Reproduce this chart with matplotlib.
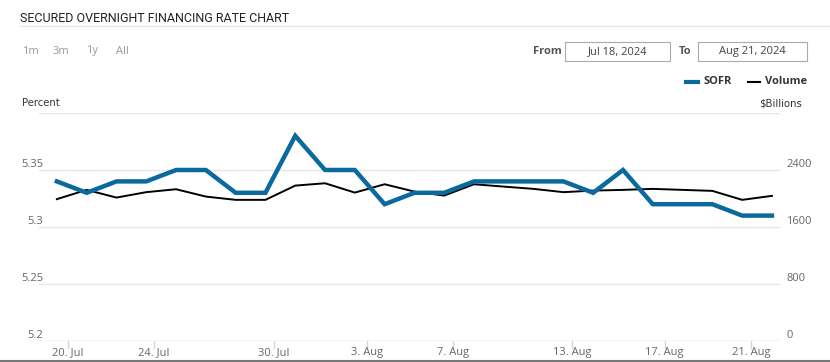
import matplotlib
matplotlib.use("Agg")
import matplotlib.pyplot as plt
from matplotlib.patches import Rectangle
from matplotlib.lines import Line2D
import matplotlib.transforms as mtransforms
from matplotlib import font_manager

# Data ------------------------------------------------------------------------
dates = ["Jul 18", "Jul 19", "Jul 22", "Jul 23", "Jul 24", "Jul 25", "Jul 26",
         "Jul 29", "Jul 30", "Jul 31", "Aug 1", "Aug 2", "Aug 5", "Aug 6",
         "Aug 7", "Aug 8", "Aug 9", "Aug 12", "Aug 13", "Aug 14", "Aug 15",
         "Aug 16", "Aug 19", "Aug 20", "Aug 21"]
sofr = [5.34, 5.33, 5.34, 5.34, 5.35, 5.35, 5.33, 5.33, 5.38, 5.35, 5.35, 5.32,
        5.33, 5.33, 5.34, 5.34, 5.34, 5.34, 5.33, 5.35, 5.32, 5.32, 5.32, 5.31,
        5.31]
volume = [1991, 2121, 2013, 2089, 2130, 2027, 1981, 1981, 2181, 2214, 2083,
          2200, 2097, 2041, 2200, 2167, 2135, 2089, 2111, 2121, 2135, 2121,
          2107, 1981, 2037]
xtick_labels = ["20. Jul", "24. Jul", "30. Jul", "3. Aug", "7. Aug", "13. Aug",
                "17. Aug", "21. Aug"]
xtick_pos = [0.37, 3.26, 7.28, 10.4, 13.3, 17.3, 20.4, 23.3]
left_ticks = [5.2, 5.25, 5.3, 5.35]
left_labels = ["5.2", "5.25", "5.3", "5.35"]
right_ticks = [0, 800, 1600, 2400]
right_labels = ["0", "800", "1600", "2400"]
ranges = ["1m", "3m", "1y", "All"]

# Style -----------------------------------------------------------------------
W, H = 830, 362
blue = "#0a6a9e"
grid = "#e6e6e6"
label_c = "#666666"
font = "Open Sans"

# condensed face for the title if one is installed
names = {f.name for f in font_manager.fontManager.ttflist}
title_font = "Liberation Sans Narrow" if "Liberation Sans Narrow" in names else "Roboto"

fig = plt.figure(figsize=(W / 100, H / 100), dpi=100)
fig.patch.set_facecolor("white")


def fx(px):
    return px / W


def fy(py):
    return 1 - py / H


ax = fig.add_axes([fx(39), fy(341), fx(780) - fx(39), (341 - 113) / H])
x = list(range(len(dates)))
ax.set_xlim(-0.6, 24.27)
ax.set_ylim(5.2, 5.4)
for s in ax.spines.values():
    s.set_visible(False)
ax.set_yticks([])
ax.set_xticks([])
for v in left_ticks[1:] + [5.4]:
    ax.axhline(v, color=grid, lw=1, zorder=0)
ax.axhline(5.2, color="#ccd6eb", lw=1, zorder=0)

ax2 = ax.twinx()
ax2.set_ylim(0, 3200)
ax2.set_yticks([])
for s in ax2.spines.values():
    s.set_visible(False)

ax2.plot(x, volume, color="black", lw=1.4, zorder=2)
ax.plot(x, sofr, color=blue, lw=3.2, solid_joinstyle="miter", zorder=3)
ax.set_zorder(ax2.get_zorder() + 1)
ax.patch.set_visible(False)

# y labels, sitting above the grid lines
tl = mtransforms.blended_transform_factory(fig.transFigure, ax.transData)
for v, lab in zip(left_ticks, left_labels):
    ax.text(fx(43), v, lab, transform=tl, ha="right", va="bottom",
            fontsize=8, color=label_c, family=font)
tr = mtransforms.blended_transform_factory(fig.transFigure, ax2.transData)
for v, lab in zip(right_ticks, right_labels):
    ax2.text(fx(786), v, lab, transform=tr, ha="left", va="bottom",
             fontsize=8, color=label_c, family=font)

# x ticks and labels
tx = mtransforms.blended_transform_factory(ax.transData, fig.transFigure)
for p, lab in zip(xtick_pos, xtick_labels):
    ax.add_line(Line2D([p, p], [fy(341), fy(348)], transform=tx,
                       color="#ccd6eb", lw=1, clip_on=False))
    ax.text(p, fy(353), lab, transform=tx, ha="center", va="center",
            fontsize=8, color=label_c, family=font)

# Header ----------------------------------------------------------------------
fig.text(fx(20), fy(18), "SECURED OVERNIGHT FINANCING RATE CHART",
         fontsize=10.5 if title_font != "Roboto" else 9, color="#222222",
         family=title_font, va="center", ha="left")
fig.add_artist(Line2D([fx(20), fx(830)], [fy(26), fy(26)], color="#e8e8e8",
                      lw=1))
for xp, r in zip([22, 53, 86, 116], ranges):
    fig.text(fx(xp), fy(51), r, fontsize=8, color="#999999", family=font,
             va="center")

fig.text(fx(533), fy(51), "From", fontsize=8, color="#555555", family=font,
         va="center", weight="bold")
fig.text(fx(679), fy(51), "To", fontsize=8, color="#555555", family=font,
         va="center", weight="bold")
for (x0, x1), txt in zip([(565, 670), (698, 807)],
                         ["Jul 18, 2024", "Aug 21, 2024"]):
    fig.add_artist(Rectangle((fx(x0), fy(61)), fx(x1) - fx(x0),
                             fy(42) - fy(61), fill=False, ec="#aaaaaa",
                             lw=0.8))
    fig.text(fx((x0 + x1) / 2), fy(51.5), txt, fontsize=8, color="#444444",
             family=font, ha="center", va="center")

# Legend
fig.add_artist(Line2D([fx(686), fx(698)], [fy(82), fy(82)], color=blue, lw=3))
fig.text(fx(703), fy(82), "SOFR", fontsize=8, color="#333333", family=font,
         va="center", weight="bold")
fig.add_artist(Line2D([fx(748), fx(760)], [fy(82), fy(82)], color="black",
                      lw=1.5))
fig.text(fx(765), fy(82), "Volume", fontsize=8, color="#333333", family=font,
         va="center", weight="bold")

fig.text(fx(22), fy(103), "Percent", fontsize=7.3, color="#333333",
         family="DejaVu Sans", va="center")
fig.text(fx(802), fy(103), "$Billions", fontsize=7.3, color="#333333",
         family="DejaVu Sans", va="center", ha="right")

fig.add_artist(Line2D([0, 1], [fy(361), fy(361)], color="#777777", lw=1.5))

fig.savefig("out.png", dpi=100)
